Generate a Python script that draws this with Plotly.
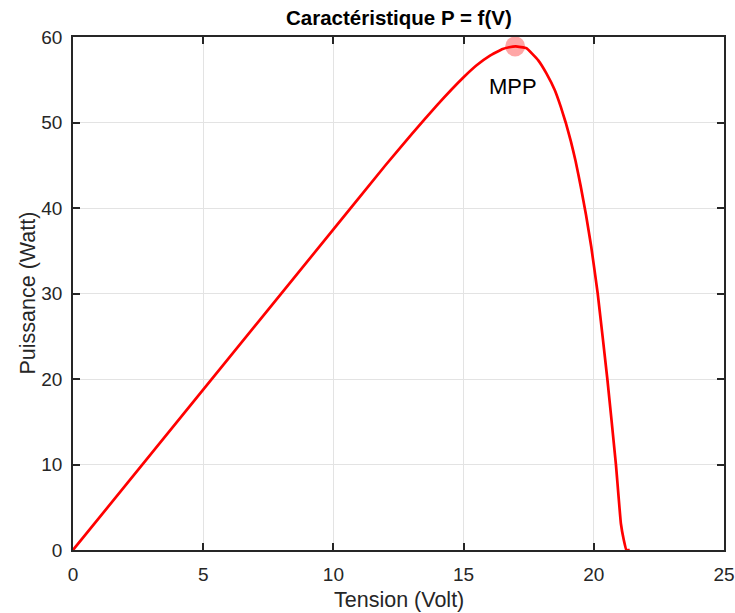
import plotly.graph_objects as go

# Data
tension = [0, 5, 10, 12, 13, 14, 15, 15.5, 16, 16.5, 16.75, 17, 17.41, 17.86,
           18.18, 18.5, 18.73, 18.92, 19.12, 19.3, 19.5, 19.7, 19.9, 20.15,
           20.52, 20.85, 21.04, 21.15, 21.25, 21.38]
puissance = [0, 18.75, 37.5, 45.0, 48.6, 52.1, 55.3, 56.7, 57.8, 58.6, 58.8,
             58.9, 58.7, 57.3, 55.75, 53.8, 51.85, 50.0, 47.8, 45.5, 42.5,
             39.2, 35.5, 30.0, 20.0, 10.0, 3.1, 1.2, 0, 0]
mpp_v = [16.98]
mpp_p = [58.9]
mpp_label = "MPP"
x_ticks = [0, 5, 10, 15, 20, 25]
y_ticks = [0, 10, 20, 30, 40, 50, 60]

FONT = "Liberation Sans, Arial, sans-serif"
AX = "#262626"
GRID = "#e3e3e3"

fig = go.Figure()
fig.add_trace(go.Scatter(
    x=tension, y=puissance, mode="lines",
    line=dict(color="#ff0000", width=2.7, shape="spline", smoothing=0.3),
    showlegend=False, hoverinfo="x+y"))
fig.add_trace(go.Scatter(
    x=mpp_v, y=mpp_p, mode="markers",
    marker=dict(size=20, color="rgba(255,0,0,0.35)", line=dict(width=0)),
    showlegend=False))

fig.add_annotation(x=16.9, y=54.2, text=mpp_label, showarrow=False,
                   xanchor="center", yanchor="middle",
                   font=dict(family=FONT, size=22, color="#000000"))

axis_common = dict(
    showline=True, linecolor=AX, linewidth=1.5, mirror="allticks",
    ticks="inside", ticklen=7, tickwidth=1.5, tickcolor=AX,
    showgrid=True, gridcolor=GRID, gridwidth=1, zeroline=False,
    automargin=False,
    tickfont=dict(family=FONT, size=19, color=AX),
)

fig.update_xaxes(range=[0, 25], tickvals=x_ticks, ticklabelstandoff=6,
                 **axis_common)
fig.update_yaxes(range=[0, 60], tickvals=y_ticks, ticklabelstandoff=5,
                 **axis_common)

fig.add_annotation(xref="paper", yref="paper", x=0.5, y=0, yshift=-50,
                   xanchor="center", yanchor="middle",
                   text="Tension (Volt)", showarrow=False,
                   font=dict(family=FONT, size=21.5, color=AX))
fig.add_annotation(xref="paper", yref="paper", x=0, y=0.5, xshift=-46,
                   xanchor="center", yanchor="middle",
                   text="Puissance (Watt)", showarrow=False, textangle=-90,
                   font=dict(family=FONT, size=21.5, color=AX))
fig.add_annotation(xref="paper", yref="paper", x=0.5, y=1, yshift=20,
                   xanchor="center", yanchor="middle",
                   text="<b>Caractéristique P = f(V)</b>", showarrow=False,
                   font=dict(family=FONT, size=20.5, color="#000000"))

fig.update_layout(
    width=735, height=613,
    margin=dict(l=73, r=11, t=37, b=63),
    paper_bgcolor="white", plot_bgcolor="white",
    showlegend=False,
)

fig.write_html(
    "out.html",
    config={"displayModeBar": False},
    post_script="document.body.style.margin='0';document.body.style.padding='0';",
)
